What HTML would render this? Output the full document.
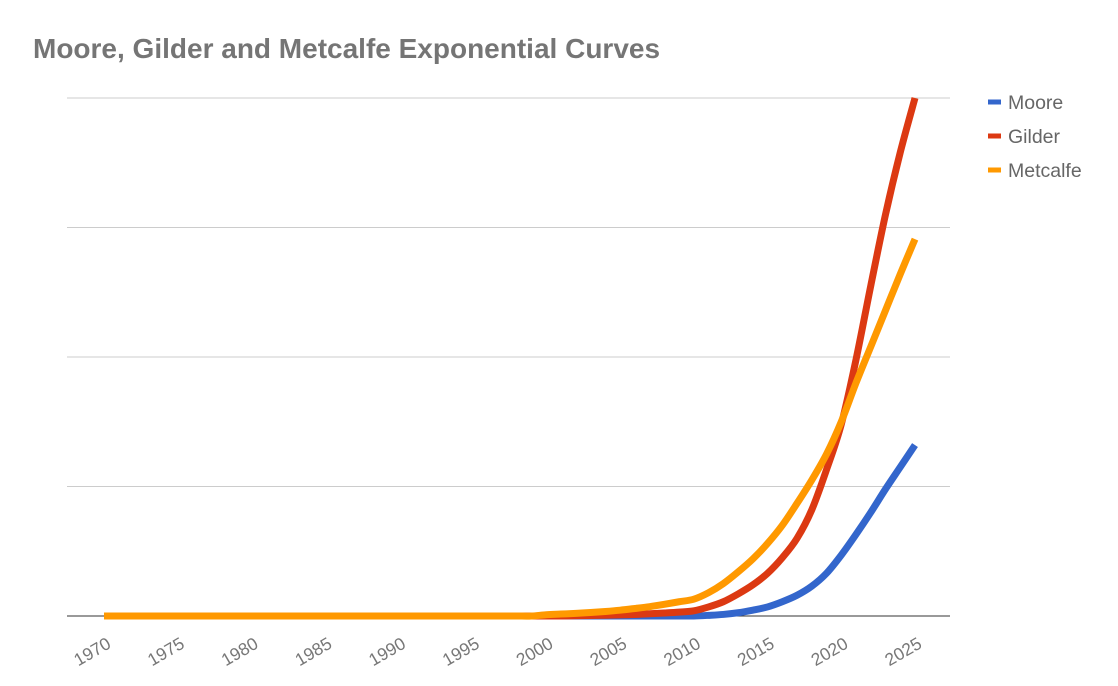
<!DOCTYPE html>
<html><head><meta charset="utf-8"><style>
body{margin:0;background:#fff;}
svg{display:block;font-family:"Liberation Sans",Arial,sans-serif;}
</style></head><body>
<svg id="chart" width="1118" height="686" viewBox="0 0 1118 686">
<text x="33" y="58" font-size="28" font-weight="bold" fill="#757575">Moore, Gilder and Metcalfe Exponential Curves</text>
<g id="grid"></g><g id="xlabels"></g><g id="series"></g><g id="legend"></g>
</svg>
<script>
const years=[];for(let y=1970;y<=2025;y++)years.push(y);
const xTicks=[1970,1975,1980,1985,1990,1995,2000,2005,2010,2015,2020,2025];
const yTicks=[0,1,2,3,4];
const seriesNames=["Moore","Gilder","Metcalfe"];
const seriesColors=["#3366cc","#dc3912","#ff9900"];
// values for 2000..2025 (earlier years ~0)
const moore=[0,0,0,0,0,0,0,0,0,0,0,0.005,0.012,0.025,0.045,0.07,0.11,0.16,0.23,0.33,0.47,0.63,0.8,0.98,1.15,1.32];
const gilder=[0,0,0.002,0.004,0.006,0.009,0.012,0.017,0.023,0.03,0.04,0.07,0.11,0.17,0.24,0.33,0.45,0.6,0.82,1.13,1.48,1.98,2.55,3.1,3.58,4.0];
const metcalfe=[0.01,0.015,0.02,0.027,0.035,0.045,0.058,0.072,0.09,0.11,0.13,0.18,0.25,0.34,0.44,0.56,0.7,0.87,1.05,1.25,1.5,1.8,2.08,2.36,2.64,2.91];
const ns="http://www.w3.org/2000/svg";
const X0=104,X1=915,Y0=616,Y1=98;
const xs=y=>X0+(y-1970)*(X1-X0)/55;
const ys=v=>Y0-v*(Y0-Y1)/4;
function mk(t,a,p){const e=document.createElementNS(ns,t);for(const k in a)e.setAttribute(k,a[k]);p.appendChild(e);return e;}
const grid=document.getElementById('grid');
yTicks.forEach(t=>{const l=mk('line',{x1:67,x2:950,y1:ys(t),y2:ys(t),stroke:t===0?'#333':'#ccc','stroke-width':1},grid);

});
const xl=document.getElementById('xlabels');
xTicks.forEach(t=>{const x=xs(t)+8,y=647;const e=mk('text',{x:x,y:y,'text-anchor':'end','font-size':17.5,fill:'#777',transform:`rotate(-30 ${x} ${y})`},xl);e.textContent=t;

});
const data=[moore,gilder,metcalfe];
const sg=document.getElementById('series');
function pathFor(vals){const pts=years.map(y=>{const i=y-2000;return [xs(y),ys(i<0?0:vals[i])];});
let d=`M${pts[0][0]},${pts[0][1]}`;
for(let i=0;i<pts.length-1;i++){const p0=pts[Math.max(0,i-1)],p1=pts[i],p2=pts[i+1],p3=pts[Math.min(pts.length-1,i+2)];
const c1=[p1[0]+(p2[0]-p0[0])/6,p1[1]+(p2[1]-p0[1])/6],c2=[p2[0]-(p3[0]-p1[0])/6,p2[1]-(p3[1]-p1[1])/6];
d+=` C${c1[0]},${c1[1]} ${c2[0]},${c2[1]} ${p2[0]},${p2[1]}`;}return d;}
[0,1,2].forEach(i=>{const p=mk('path',{d:pathFor(data[i]),fill:'none',stroke:seriesColors[i],'stroke-width':7},sg);

});
const lg=document.getElementById('legend');
seriesNames.forEach((n,i)=>{const g=mk('g',{},lg);


mk('line',{x1:988,x2:1001,y1:102+i*34,y2:102+i*34,stroke:seriesColors[i],'stroke-width':5},g);
const t=mk('text',{x:1008,y:109+i*34,'font-size':19.5,fill:'#666'},g);t.textContent=n;});
</script>
</body></html>
